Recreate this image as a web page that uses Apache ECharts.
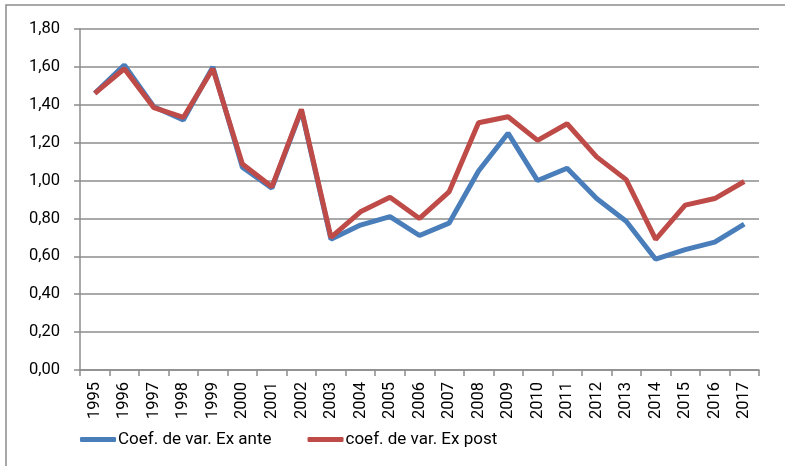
<!DOCTYPE html>
<html>
<head>
<meta charset="utf-8">
<script src="https://cdn.jsdelivr.net/npm/echarts@6/dist/echarts.min.js"></script>
<style>
  html, body { margin: 0; padding: 0; background: #fff; }
  #chart { width: 785px; height: 466px; }
</style>
</head>
<body>
<div id="chart"></div>
<script>
const years = ['1995', '1996', '1997', '1998', '1999', '2000', '2001', '2002', '2003', '2004', '2005', '2006',
    '2007', '2008', '2009', '2010', '2011', '2012', '2013', '2014', '2015', '2016', '2017'];
const exAnte = [1.46, 1.61, 1.39, 1.32, 1.60, 1.07, 0.96, 1.37, 0.69, 0.765, 0.81, 0.71,
    0.775, 1.05, 1.25, 1.00, 1.065, 0.905, 0.785, 0.585, 0.635, 0.675, 0.77];
const exPost = [1.46, 1.59, 1.385, 1.333, 1.59, 1.087, 0.967, 1.376, 0.70, 0.835, 0.912, 0.80,
    0.94, 1.305, 1.337, 1.212, 1.30, 1.125, 1.005, 0.69, 0.87, 0.905, 0.995];
const seriesNames = ['Coef. de var. Ex ante', 'coef. de var. Ex post'];

const chart = echarts.init(document.getElementById('chart'));
const grayLine = '#8c8c8c';
chart.setOption({
    animation: false,
    textStyle: { fontFamily: 'Roboto, "Open Sans", sans-serif' },
    color: ['#4a7ebb', '#be4b48'],
    graphic: [
        {
            type: 'rect',
            shape: { x: 6, y: 5, width: 790, height: 480 },
            style: { fill: 'none', stroke: '#8c8c8c', lineWidth: 1.5 }
        }
    ],
    grid: { left: 80, right: 26, top: 29, bottom: 96 },
    legend: {
        left: 75,
        top: 426,
        itemWidth: 36,
        itemHeight: 5,
        itemGap: 36,
        icon: 'roundRect',
        textStyle: { fontSize: 17, color: '#000', padding: [0, 0, 0, -3] },
        data: seriesNames
    },
    xAxis: {
        type: 'category',
        data: years,
        boundaryGap: true,
        axisLine: { lineStyle: { color: grayLine, width: 1.5 } },
        axisTick: { show: true, length: 6, lineStyle: { color: grayLine, width: 1.5 } },
        axisLabel: { rotate: 90, fontSize: 16.5, color: '#000', margin: 12, interval: 0 }
    },
    yAxis: {
        type: 'value',
        min: 0,
        max: 1.8,
        interval: 0.2,
        axisLine: { show: true, lineStyle: { color: grayLine, width: 1.5 } },
        axisTick: { show: true, length: 6, lineStyle: { color: grayLine, width: 1.5 } },
        splitLine: { lineStyle: { color: grayLine, width: 1.5 } },
        axisLabel: {
            fontSize: 16.5,
            color: '#000',
            margin: 20,
            formatter: v => v.toFixed(2).replace('.', ',')
        }
    },
    series: [
        {
            name: seriesNames[0],
            type: 'line',
            data: exAnte,
            symbol: 'none',
            lineStyle: { width: 5 }
        },
        {
            name: seriesNames[1],
            type: 'line',
            data: exPost,
            symbol: 'none',
            lineStyle: { width: 5 }
        }
    ]
});
</script>
</body>
</html>
